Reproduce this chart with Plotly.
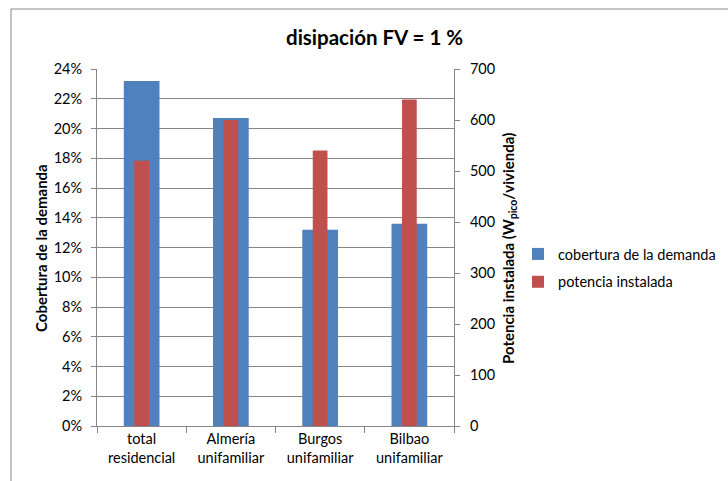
import plotly.graph_objects as go

categories = ["total<br>residencial", "Almería<br>unifamiliar", "Burgos<br>unifamiliar", "Bilbao<br>unifamiliar"]
cobertura = [0.232, 0.207, 0.132, 0.136]
potencia = [520, 600, 540, 640]

W, H = 728, 481
ml, mr, mt, mb = 97, 274, 69, 55
pw, ph = W - ml - mr, H - mt - mb

def px(x):
    return (x - ml) / pw

def py(y):
    return (H - mb - y) / ph

FONT = "Lato"
GRID = "#868686"
FS = 14.5

fig = go.Figure()
fig.add_trace(go.Bar(
    x=categories, y=cobertura, name="cobertura de la demanda",
    marker=dict(color="#4F81BD", line=dict(width=0)),
    width=0.4, offset=-0.2, yaxis="y", legendgroup="a",
))
fig.add_trace(go.Bar(
    x=categories, y=potencia, name="potencia instalada",
    marker=dict(color="#C0504D", line=dict(width=0)),
    width=0.165, offset=-0.0825, yaxis="y2", legendgroup="b",
))

fig.update_layout(
    width=W, height=H,
    margin=dict(l=ml, r=mr, t=mt, b=mb, pad=0, autoexpand=False),
    paper_bgcolor="white", plot_bgcolor="white",
    barmode="overlay",
    showlegend=True,
    font=dict(family=FONT, size=FS, color="#000000"),
    legend=dict(
        xref="container", yref="container",
        x=518 / W, y=1 - 238 / H, xanchor="left", yanchor="top",
        font=dict(family=FONT, size=FS), itemwidth=30,
        tracegroupgap=6, bgcolor="rgba(0,0,0,0)",
    ),
    xaxis=dict(
        showgrid=False, showline=True, linecolor=GRID, linewidth=1,
        ticks="outside", tickson="boundaries", ticklen=6, tickcolor=GRID,
        tickfont=dict(family=FONT, size=FS), fixedrange=True,
    ),
    yaxis=dict(
        range=[0, 0.24], dtick=0.02, tickformat=".0%",
        showgrid=True, gridcolor=GRID, gridwidth=1,
        showline=True, linecolor=GRID, linewidth=1,
        ticks="outside", ticklen=5, tickcolor=GRID,
        ticklabelstandoff=6,
        tickfont=dict(family=FONT, size=FS), zeroline=False,
    ),
    yaxis2=dict(
        range=[0, 700], dtick=100, overlaying="y", side="right",
        showgrid=False, showline=True, linecolor=GRID, linewidth=1,
        ticks="outside", ticklen=5, tickcolor=GRID,
        ticklabelstandoff=7,
        tickfont=dict(family=FONT, size=FS), zeroline=False,
    ),
    annotations=[
        dict(text="<b>disipación FV = 1 %</b>", x=px(374), y=py(37),
             xref="paper", yref="paper", showarrow=False,
             font=dict(family=FONT, size=20.5), xanchor="center", yanchor="middle"),
        dict(text="<b>Cobertura de la demanda</b>", x=px(41), y=py(248),
             xref="paper", yref="paper", showarrow=False, textangle=-90,
             font=dict(family=FONT, size=15), xanchor="center", yanchor="middle"),
        dict(text="<b>Potencia instalada (W<sub>pico</sub>/vivienda)</b>", x=px(509), y=py(248),
             xref="paper", yref="paper", showarrow=False, textangle=-90,
             font=dict(family=FONT, size=15), xanchor="center", yanchor="middle"),
    ],
    shapes=[
        dict(type="line", xref="paper", yref="paper",
             x0=px(11), x1=px(740), y0=py(9), y1=py(9),
             line=dict(color=GRID, width=1)),
        dict(type="line", xref="paper", yref="paper",
             x0=px(11), x1=px(11), y0=py(9), y1=py(490),
             line=dict(color=GRID, width=1)),
    ],
)

fig.write_html("out.html")
